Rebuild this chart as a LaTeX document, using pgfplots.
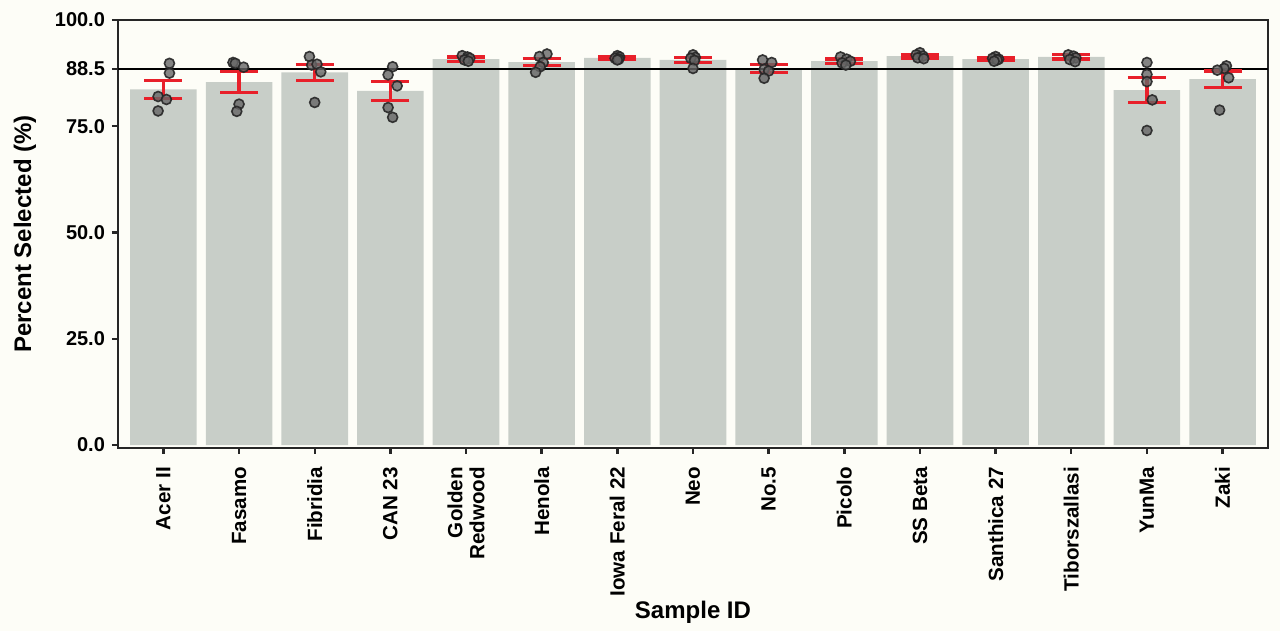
\documentclass[border=0pt]{standalone}
\usepackage{fontspec}
\setmainfont{Liberation Sans}
\usepackage{pgfplots}
\pgfplotsset{compat=1.18}
\usepackage{pgfplotstable}

\definecolor{bg}{HTML}{FDFDF7}
\definecolor{barcol}{HTML}{C8CEC8}
\definecolor{errred}{HTML}{E8202A}

% mean and standard error per sample
\pgfplotstableread{
x y e
0 83.7 2.1
1 85.4 2.5
2 87.7 1.9
3 83.3 2.3
4 90.8 0.5
5 90.1 0.9
6 91.1 0.3
7 90.6 0.65
8 88.6 1.0
9 90.3 0.5
10 91.5 0.45
11 90.8 0.4
12 91.3 0.5
13 83.5 2.9
14 86.1 1.9
}\means

% individual replicates (x jittered)
\pgfplotstableread{
x y
0.08 89.8
0.08 87.5
-0.07 82.0
0.04 81.3
-0.07 78.6
0.92 90.0
0.95 89.8
1.06 88.9
1.00 80.2
0.97 78.5
1.93 91.4
1.96 89.4
2.03 89.6
2.08 87.8
2.00 80.6
3.03 89.0
2.97 87.1
3.09 84.5
2.97 79.4
3.03 77.1
3.95 91.6
4.02 91.3
4.05 91.0
3.98 90.6
4.03 90.3
5.07 92.0
4.97 91.4
5.02 90.0
4.98 89.0
4.92 87.7
6.00 91.6
6.03 91.3
5.97 91.0
6.02 90.8
6.00 90.6
7.00 91.8
7.03 91.2
6.97 91.0
7.02 90.5
7.00 88.6
7.92 90.6
8.04 90.0
7.94 88.4
8.00 88.0
7.94 86.3
8.95 91.3
9.03 90.8
9.08 90.3
8.97 89.9
9.02 89.4
10.00 92.3
9.95 91.8
10.04 91.5
9.97 91.1
10.05 90.9
11.00 91.4
10.96 91.0
11.04 90.8
11.02 90.6
10.98 90.3
11.96 91.8
12.03 91.5
12.06 91.1
11.98 90.7
12.05 90.2
13.00 90.0
13.00 87.2
13.00 85.5
13.07 81.2
13.00 74.0
14.05 89.2
14.02 88.6
13.93 88.2
14.08 86.4
13.96 78.8
}\reps

\begin{document}
\begin{tikzpicture}
\fill[bg] (-59pt,-91.5pt) rectangle (581pt,224pt);
\begin{axis}[
  scale only axis,
  width=575pt, height=214pt,
  xmin=-0.6, xmax=14.6,
  ymin=-0.7, ymax=100,
  axis line style={line width=1pt, black!85},
  xtick={0,...,14},
  xticklabels={Acer II,Fasamo,Fibridia,CAN 23,Golden\\Redwood,Henola,Iowa Feral 22,Neo,No.5,Picolo,SS Beta,Santhica 27,Tiborszallasi,YunMa,Zaki},
  ytick={0,25,50,75,88.5,100},
  yticklabels={0.0,25.0,50.0,75.0,88.5,100.0},
  tick align=outside,
  major tick length=3pt,
  tick style={line width=1.2pt, black!85},
  xtick pos=bottom, ytick pos=left,
  xticklabel shift=3pt,
  xticklabel style={rotate=90, anchor=east, align=right,
    font=\fontsize{10.3}{11}\selectfont\bfseries},
  yticklabel style={font=\fontsize{10}{12}\selectfont\bfseries},
  /pgf/number format/assume math mode=true,
  xlabel={Sample ID},
  ylabel={Percent Selected (\%)},
  xlabel style={at={(axis description cs:0.5,-0.383)}, anchor=center,
    font=\fontsize{12}{14}\selectfont\bfseries},
  ylabel style={at={(axis description cs:-0.081,0.5)}, anchor=center,
    font=\fontsize{12}{14}\selectfont\bfseries},
]
\addplot[ybar, bar width=0.88, fill=barcol, draw=none] table[x=x,y=y] {\means};
\addplot[black, line width=1.3pt, mark=none] coordinates {(-0.6,88.5) (14.6,88.5)};
\addplot[only marks, mark=*, mark size=2.5pt,
  mark options={fill=black!60, draw=black!85, fill opacity=0.8, draw opacity=0.9, line width=0.8pt}]
  table[x=x,y=y] {\reps};
\addplot[draw=none, mark=none,
  error bars/.cd, y dir=both, y explicit,
  error mark=|,
  error bar style={line width=1.6pt, errred},
  error mark options={mark size=9.5pt, line width=1.6pt, errred}]
  table[x=x,y=y,y error=e] {\means};
\end{axis}
\pgfresetboundingbox
\useasboundingbox (-59pt,-91.5pt) rectangle (581pt,224pt);
\end{tikzpicture}
\end{document}
